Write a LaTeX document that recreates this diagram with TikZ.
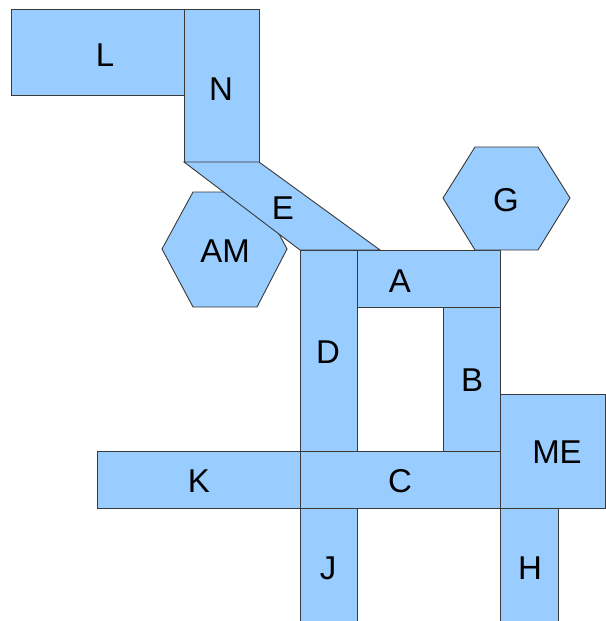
\documentclass[tikz,border=0pt]{standalone}
\usepackage{fontspec}
\setmainfont{Liberation Sans}
\usepackage{xcolor}
\definecolor{roomblue}{HTML}{99CCFF}
\definecolor{roomline}{HTML}{3A3A3A}

\begin{document}
\begin{tikzpicture}[x=1pt,y=-1pt,
  room/.style={draw=roomline,fill=roomblue,line width=0.9pt,line join=miter},
  tag/.style={font=\fontsize{33}{38}\selectfont,text=black,inner sep=0pt}]
\useasboundingbox (0,0) rectangle (605,621);
% rooms, back to front
\draw[room] (11,9) rectangle (184,95);
\draw[room] (184,9) rectangle (259,162);
\draw[room] (162,249) -- (193,192) -- (257,192) -- (287,249) -- (257,307) -- (193,307) -- cycle;
\draw[room] (184,162) -- (259,162) -- (380,250) -- (300,250) -- cycle;
\draw[room] (300,250) rectangle (357,451);
\draw[room] (357,250) rectangle (500,307);
\draw[room] (443,307) rectangle (500,451);
\draw[room] (97,451) rectangle (300,508);
\draw[room] (300,451) rectangle (500,508);
\draw[room] (500,394) rectangle (605,508);
\draw[room] (300,508) rectangle (357,621);
\draw[room] (500,508) rectangle (558,621);
\draw[room] (443,198) -- (475,147) -- (538,147) -- (570,198) -- (538,250) -- (475,250) -- cycle;
% labels
\node[tag] (L) at (105,55) {L};
\node[tag] (N) at (221,89) {N};
\node[tag] (E) at (283,208) {E};
\node[tag] (AM) at (225,251) {AM};
\node[tag] (G) at (506,200) {G};
\node[tag] (A) at (400,281) {A};
\node[tag] (D) at (328,352) {D};
\node[tag] (B) at (472,380) {B};
\node[tag] (K) at (199,481) {K};
\node[tag] (C) at (400,481) {C};
\node[tag] (ME) at (557,452) {ME};
\node[tag] (J) at (328,568) {J};
\node[tag] (H) at (530,568) {H};
\end{tikzpicture}
\end{document}
